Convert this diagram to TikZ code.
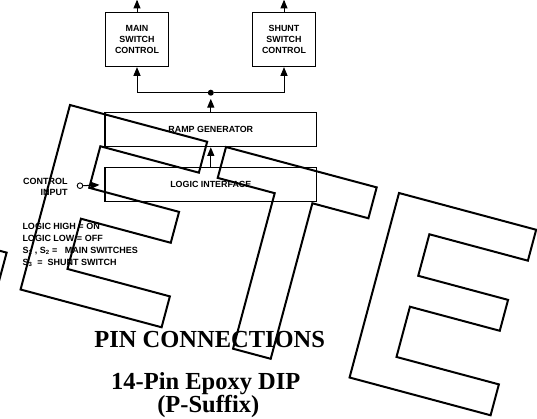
\documentclass[tikz,border=0pt]{standalone}
\usepackage{fontspec}
\setmainfont{Liberation Serif}
\setsansfont{Liberation Sans}
\usetikzlibrary{arrows,positioning}

\tikzset{
  block/.style={draw,line width=1.4pt,rectangle,inner sep=0pt,align=center,
    font=\sffamily\bfseries\fontsize{8.9}{11.3}\selectfont},
  lbl/.style={inner sep=0pt,font=\sffamily\bfseries\fontsize{9}{11.3}\selectfont},
  title/.style={inner sep=0pt,font=\bfseries\fontsize{24.5}{25}\selectfont},
  wire/.style={line width=1pt},
  letter/.style={line width=2pt,line join=miter},
}
% outlined E of the watermark, #1 = top left corner
\newcommand{\wmarkE}[1]{%
  \begin{scope}[shift={#1},rotate=-15]
  \draw[letter] (0,0) -- (142,0) -- (142,32) -- (40,32) -- (40,75) -- (133,75) -- (133,107)
    -- (40,107) -- (40,159) -- (146,159) -- (146,191) -- (0,191) -- cycle;
  \end{scope}}

\begin{document}
\begin{tikzpicture}[line cap=butt,>=triangle 45,x=1pt,y=-1pt]
\useasboundingbox (0,0) rectangle (537,418);
\clip (0,0) rectangle (537,418);

% blocks
\node[block,minimum width=63pt,minimum height=54pt] (main) at (137,39.5) {MAIN\\SWITCH\\CONTROL};
\node[block,minimum width=63pt,minimum height=54pt] (shunt) at (284,39.5) {SHUNT\\SWITCH\\CONTROL};
\node[block,minimum width=211.5pt,minimum height=34pt] (ramp) at (210.8,129.6) {RAMP GENERATOR};
\node[block,minimum width=211.5pt,minimum height=34pt] (logic) at (210.8,184.6) {LOGIC INTERFACE};
\node[circle,fill,inner sep=0pt,minimum size=6pt] (dot) at (210.8,92.7) {};
\node[circle,draw,line width=0.9pt,inner sep=0pt,minimum size=5.6pt] (input) at (80,185.7) {};
\coordinate[above=12pt of main.north] (mainout);
\coordinate[above=12pt of shunt.north] (shuntout);

% connections
\draw[wire,->] (main.north) -- (mainout);
\draw[wire,->] (shunt.north) -- (shuntout);
\draw[wire,->] (dot) -| (main.south);
\draw[wire,->] (dot) -| (shunt.south);
\draw[wire,->,shorten >=3pt] (ramp.north) -- (dot.south);
\draw[wire,->] (logic.north) -- (ramp.south);
\draw[wire,->,shorten >=5pt] (input.east) -- (logic.west);

% labels
\node[lbl,align=right,anchor=north east] (ctrl) at (67.7,177.7) {CONTROL\\INPUT};
\node[lbl,align=left,anchor=north west,font=\sffamily\bfseries\fontsize{9}{11.8}\selectfont] (notes) at (22.3,223.3)
  {LOGIC HIGH = ON\\LOGIC LOW = OFF\\S\textsubscript{1} , S\textsubscript{2} =\ \ \ MAIN SWITCHES\\S\textsubscript{3} ~=~ SHUNT SWITCH};

\node[title,anchor=base] (pin) at (209.7,347.7) {PIN CONNECTIONS};
\node[title,anchor=base] (dip) at (205.8,389) {14-Pin Epoxy DIP};
\node[title,anchor=base] (suffix) at (208.3,412.6) {(P-Suffix)};

% watermark letters
\begin{scope}[shift={(70,105)},rotate=-15]
\draw[letter] (-200,159) -- (-23,159) -- (-23,191) -- (-200,191);
\end{scope}
\wmarkE{(70,105)}
\begin{scope}[shift={(226,147)},rotate=-15]
\draw[letter] (0,0) -- (156,0) -- (156,32) -- (98,32) -- (98,193) -- (59,193) -- (59,32) -- (0,32) -- cycle;
\end{scope}
\wmarkE{(399,193)}
\end{tikzpicture}
\end{document}
